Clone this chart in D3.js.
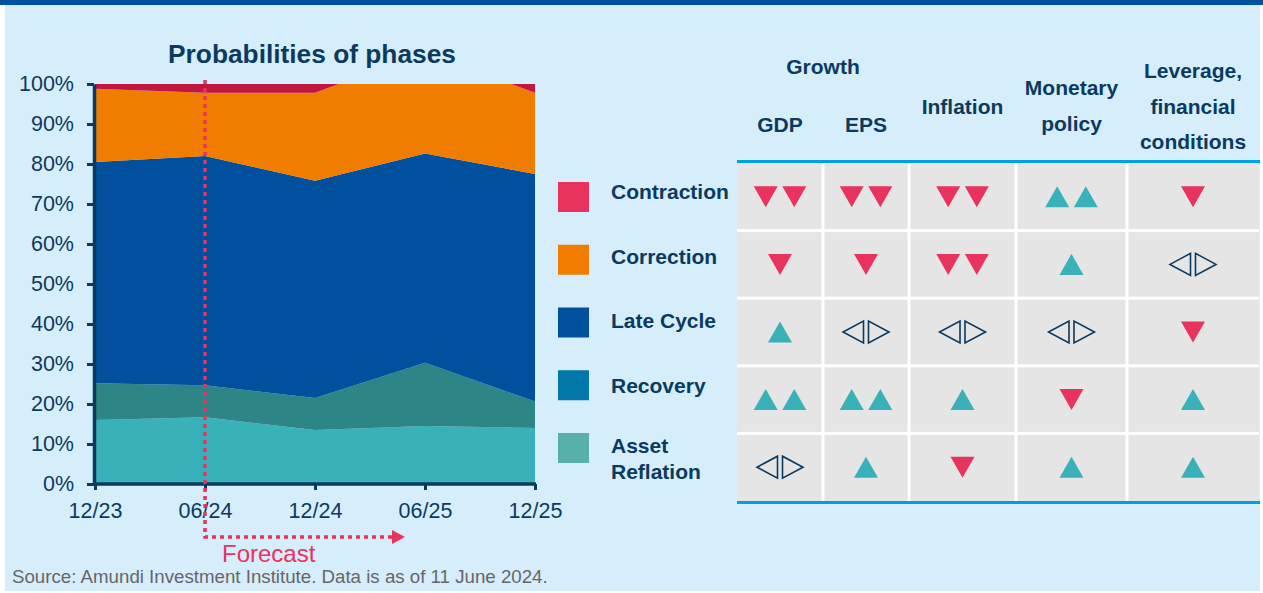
<!DOCTYPE html>
<html>
<head>
<meta charset="utf-8">
<script src="https://cdn.jsdelivr.net/npm/d3@7"></script>
<style>
  body { margin: 0; background: #fff; }
  svg { display: block; font-family: Arial, "Liberation Sans", sans-serif; }
</style>
</head>
<body>
<svg id="chart" width="1263" height="593"></svg>
<script>
// data
var dates = ["12/23", "06/24", "12/24", "06/25", "12/25"];
var phases = ["Contraction", "Correction", "Late Cycle", "Recovery", "Asset Reflation"];
var assetReflation = [16.0, 16.7, 13.5, 14.5, 14.0];
var recovery       = [9.2, 8.0, 8.0, 15.8, 6.6];
var lateCycle      = [55.3, 57.3, 54.3, 52.3, 56.9];
var correction     = [18.3, 15.8, 22.0, 25.4, 20.3];
var contraction    = [1.2, 2.2, 2.2, 0.0, 2.2];
var yTicks = [0, 10, 20, 30, 40, 50, 60, 70, 80, 90, 100];

var indicators = ["GDP", "EPS", "Inflation", "Monetary policy", "Leverage, financial conditions"];
var headerLines = [["GDP"], ["EPS"], ["Inflation"], ["Monetary", "policy"], ["Leverage,", "financial", "conditions"]];
// -- two down, - down, = neutral, + up, ++ two up
var signals = [
  ["--", "--", "--", "++", "-"],
  ["-", "-", "--", "+", "="],
  ["+", "=", "=", "=", "-"],
  ["++", "++", "+", "-", "+"],
  ["=", "+", "-", "+", "+"]
];

var navy = "#0b3a61", pink = "#e8335e", teal = "#38b2b8";
var areaColors = {"Contraction": "#c0163f", "Correction": "#f07d00", "Late Cycle": "#00509e",
                  "Recovery": "#2e8585", "Asset Reflation": "#38b2b8"};
var legendColors = {"Contraction": "#e8335e", "Correction": "#f07d00", "Late Cycle": "#00509e",
                    "Recovery": "#0077a8", "Asset Reflation": "#57b0aa"};

var svg = d3.select("svg#chart");

// background
svg.append("rect").attr("x", 5).attr("y", 5).attr("width", 1255).attr("height", 586).attr("fill", "#d6edfb");
svg.append("rect").attr("x", 0).attr("y", 0).attr("width", 1263).attr("height", 5).attr("fill", "#00519e");

// ---- stacked area chart
var x = d3.scalePoint().domain(dates).range([95, 535]);
var y = d3.scaleLinear().domain([0, 100]).range([484, 84]);

var rows = dates.map(function(d, i) {
  return {date: d, "Asset Reflation": assetReflation[i], "Recovery": recovery[i],
          "Late Cycle": lateCycle[i], "Correction": correction[i], "Contraction": contraction[i]};
});
var stack = d3.stack().keys(["Asset Reflation", "Recovery", "Late Cycle", "Correction", "Contraction"]);
var series = stack(rows);

svg.append("clipPath").attr("id", "plotclip")
  .append("rect").attr("x", 95).attr("y", y(100)).attr("width", 440).attr("height", y(0) - y(100));

var area = d3.area()
  .x(function(d) { return x(d.data.date); })
  .y0(function(d) { return y(d[0]); })
  .y1(function(d) { return y(d[1]); });

svg.append("g").attr("clip-path", "url(#plotclip)")
  .selectAll("path").data(series).enter().append("path")
  .attr("fill", function(d) { return areaColors[d.key]; })
  .attr("d", area);

svg.append("text").attr("x", 312).attr("y", 63).attr("text-anchor", "middle")
  .attr("font-size", 26.3).attr("font-weight", "bold").attr("fill", navy)
  .text("Probabilities of phases");

var yAxis = svg.append("g").attr("transform", "translate(94,0)")
  .call(d3.axisLeft(y).tickValues(yTicks).tickFormat(function(d) { return d + "%"; })
    .tickSize(7).tickSizeOuter(0).tickPadding(13));
var xAxis = svg.append("g").attr("transform", "translate(0,484)")
  .call(d3.axisBottom(x).tickSize(6).tickSizeOuter(0).tickPadding(13));

[yAxis, xAxis].forEach(function(a) {
  a.select(".domain").attr("stroke", navy).attr("stroke-width", 3.5);
  a.selectAll(".tick line").attr("stroke", navy).attr("stroke-width", 3);
  a.selectAll("text").attr("fill", navy).attr("font-size", 21.5).attr("font-family", "Arial, 'Liberation Sans', sans-serif");
});
xAxis.select(".domain").attr("d", "M95,0H536");

// forecast marker
var fx = x("06/24"), fy = 537;
svg.append("path")
  .attr("d", "M" + fx + ",80V" + fy + "H" + (x("06/25") - 32))
  .attr("fill", "none").attr("stroke", pink).attr("stroke-width", 3.5).attr("stroke-dasharray", "4,4");
svg.append("path")
  .attr("d", "M" + (x("06/25") - 33) + "," + (fy - 7) + "L" + (x("06/25") - 20) + "," + fy + "L" + (x("06/25") - 33) + "," + (fy + 7) + "Z")
  .attr("fill", pink);
svg.append("text").attr("x", fx + 17).attr("y", 562)
  .attr("font-size", 24).attr("fill", pink).text("Forecast");

svg.append("text").attr("x", 12).attr("y", 583)
  .attr("font-size", 18.7).attr("fill", "#666").text("Source: Amundi Investment Institute. Data is as of 11 June 2024.");

// ---- legend
var ly = d3.scalePoint().domain(phases).range([197, 448]);
var legend = svg.append("g").selectAll("g").data(phases).enter().append("g");
legend.append("rect")
  .attr("x", 558).attr("y", function(d) { return ly(d) - 15; })
  .attr("width", 31).attr("height", 30)
  .attr("fill", function(d) { return legendColors[d]; });
legend.append("text")
  .attr("x", 611).attr("font-size", 21).attr("font-weight", "bold").attr("fill", navy)
  .each(function(d, i) {
    var words = d === "Asset Reflation" ? ["Asset", "Reflation"] : [d];
    var t = d3.select(this);
    words.forEach(function(w, j) {
      t.append("tspan").attr("x", 611)
        .attr("y", words.length > 1 ? ly(d) + 5 + j * 26 : 199 + i * 64.5)
        .text(w);
    });
  });

// ---- signals table
var colEdges = [737, 823, 909, 1016, 1127, 1259];
var colX = d3.scaleOrdinal().domain(indicators).range(colEdges.slice(0, 5));
var colW = d3.scaleOrdinal().domain(indicators).range(colEdges.slice(1).map(function(e, i) { return e - colEdges[i]; }));
var rowY = d3.scaleBand().domain(phases).range([163, 501]);

var cells = [];
phases.forEach(function(p, r) {
  indicators.forEach(function(ind, c) { cells.push({phase: p, ind: ind, sig: signals[r][c]}); });
});

var table = svg.append("g");
table.append("rect").attr("x", 737).attr("y", 163).attr("width", 522).attr("height", 338).attr("fill", "#fff");
table.selectAll("rect.cell").data(cells).enter().append("rect")
  .attr("class", "cell")
  .attr("x", function(d) { return colX(d.ind) + (d.ind === indicators[0] ? 0 : 1.5); })
  .attr("y", function(d) { return rowY(d.phase) + (d.phase === phases[0] ? 0 : 1.5); })
  .attr("width", function(d) { return colW(d.ind) - (d.ind === indicators[0] ? 1.5 : 3) + (d.ind === indicators[4] ? 1.5 : 0); })
  .attr("height", function(d) { return rowY.bandwidth() - (d.phase === phases[0] ? 1.5 : 3) + (d.phase === phases[4] ? 1.5 : 0); })
  .attr("fill", "#e5e5e5");

table.append("rect").attr("x", 737).attr("y", 160).attr("width", 523).attr("height", 3).attr("fill", "#00a0e3");
table.append("rect").attr("x", 737).attr("y", 501).attr("width", 523).attr("height", 3).attr("fill", "#00a0e3");

function tri(cx, cy, dir) {
  // dir 1 = up, -1 = down
  var h = 10.5 * dir;
  return "M" + (cx - 12) + "," + (cy + h) + "L" + (cx + 12) + "," + (cy + h) + "L" + cx + "," + (cy - h) + "Z";
}

table.selectAll("g.sig").data(cells).enter().append("g").attr("class", "sig")
  .each(function(d) {
    var g = d3.select(this);
    var cx = colX(d.ind) + colW(d.ind) / 2;
    var cy = rowY(d.phase) + rowY.bandwidth() / 2;
    if (d.sig === "=") {
      g.append("path")
        .attr("d", "M" + (cx - 2.5) + "," + (cy - 11) + "V" + (cy + 11) + "L" + (cx - 23) + "," + cy + "Z")
        .attr("fill", "none").attr("stroke", navy).attr("stroke-width", 1.6);
      g.append("path")
        .attr("d", "M" + (cx + 2.5) + "," + (cy - 11) + "V" + (cy + 11) + "L" + (cx + 23) + "," + cy + "Z")
        .attr("fill", "none").attr("stroke", navy).attr("stroke-width", 1.6);
    } else {
      var dir = d.sig.charAt(0) === "+" ? 1 : -1;
      var offs = d.sig.length === 2 ? [-14.3, 14.3] : [0];
      offs.forEach(function(o) {
        g.append("path").attr("d", tri(cx + o, cy, dir)).attr("fill", dir > 0 ? teal : pink);
      });
    }
  });

// header
var headerBase = [[132], [132], [114], [95, 131], [78, 114, 149]];
indicators.forEach(function(ind, i) {
  headerLines[i].forEach(function(line, j) {
    svg.append("text")
      .attr("x", colX(ind) + colW(ind) / 2).attr("y", headerBase[i][j])
      .attr("text-anchor", "middle").attr("font-size", 21).attr("font-weight", "bold").attr("fill", navy)
      .text(line);
  });
});
svg.append("text").attr("x", colEdges[1]).attr("y", 74)
  .attr("text-anchor", "middle").attr("font-size", 21).attr("font-weight", "bold").attr("fill", navy)
  .text("Growth");
</script>
</body>
</html>
